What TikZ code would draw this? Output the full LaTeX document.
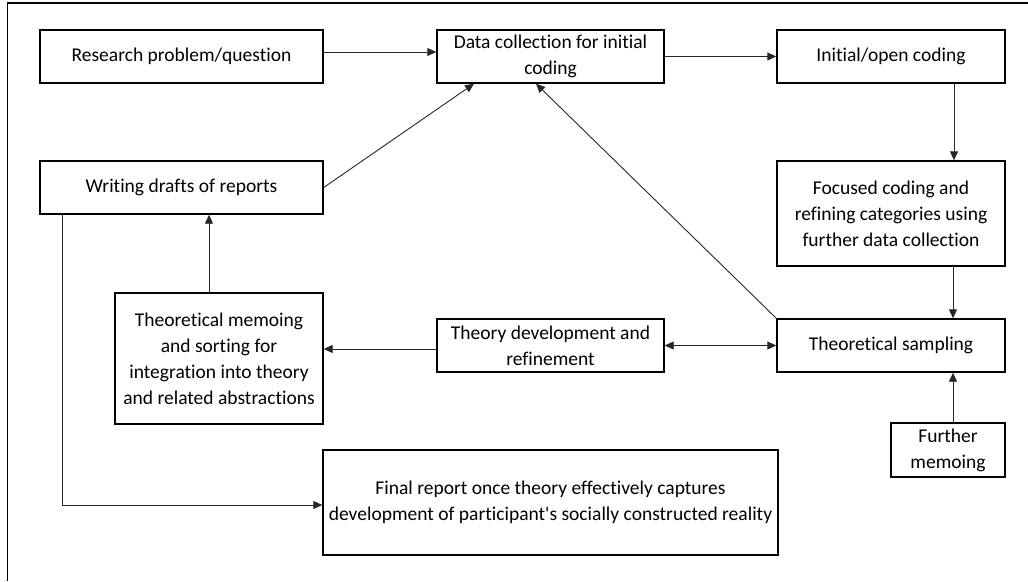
\documentclass[tikz,border=0pt]{standalone}
\usepackage{fontspec}
\setmainfont{Carlito}[Ligatures={NoCommon}]
\usetikzlibrary{arrows.meta}
\begin{document}
\begin{tikzpicture}[x=1pt,y=-1pt,
  box/.style={draw=black,line width=1.4pt,align=center,inner sep=0pt,
    font=\fontsize{19.5}{26}\selectfont},
  link/.style={draw=black!85,line width=0.9pt,-{Triangle[length=9pt,width=8pt]}},
  dlink/.style={draw=black!85,line width=0.9pt,{Triangle[length=9pt,width=8pt]}-{Triangle[length=9pt,width=8pt]}}]
\useasboundingbox (0,0) rectangle (1028,581);
% frame along the top and left
\draw[line width=1.3pt] (7.3,581) -- (7.3,3) -- (1028,3);

% process steps
\node[box,minimum width=283pt,minimum height=53pt] (research) at (181.5,56.5) {Research problem/question};
\node[box,minimum width=227pt,minimum height=53pt] (data) at (550.5,56.5) {Data collection for initial\\coding};
\node[box,minimum width=228pt,minimum height=53pt] (initial) at (891,56.5) {Initial/open coding};
\node[box,minimum width=283pt,minimum height=53pt] (writing) at (181.5,187.5) {Writing drafts of reports};
\node[box,minimum width=228pt,minimum height=105pt] (focused) at (891,213.5) {Focused coding and\\refining categories using\\further data collection};
\node[box,minimum width=208pt,minimum height=131pt] (memoing) at (219,358.5) {Theoretical memoing\\and sorting for\\integration into theory\\and related abstractions};
\node[box,minimum width=227pt,minimum height=53pt] (theorydev) at (550.5,345.5) {Theory development and\\refinement};
\node[box,minimum width=228pt,minimum height=53pt] (sampling) at (891,345.5) {Theoretical sampling};
\node[box,minimum width=114pt,minimum height=54pt] (further) at (948,450) {Further\\memoing};
\node[box,minimum width=455pt,minimum height=105pt] (final) at (550.5,502.5) {Final report once theory effectively captures\\development of participant\textquotesingle s socially constructed reality};

% connectors
\coordinate (tm) at ([yshift=-3.5pt]theorydev.west);
\draw[link] ([yshift=4.5pt]research.east) -- ([yshift=4.5pt]data.west);
\draw[link] (data.east) -- (initial.west);
\draw[link] ([xshift=63pt]initial.south) -- ([xshift=63pt]focused.north);
\draw[link] ([xshift=62pt]focused.south) -- ([xshift=62pt]sampling.north);
\draw[link] ([xshift=5pt]further.north) -- ([xshift=5pt]further.north |- sampling.south);
\draw[dlink] (theorydev.east) -- (sampling.west);
\draw[link] (tm) -- (tm -| memoing.east);
\draw[link] ([xshift=-10pt]memoing.north) -- ([xshift=-10pt]memoing.north |- writing.south);
\draw[link] (writing.east) -- ([xshift=-76.5pt]data.south);
\draw[link] (sampling.north west) -- ([xshift=-14.5pt]data.south);
\draw[link] ([xshift=-119.5pt]writing.south) |- ([yshift=-2.5pt]final.west);
\end{tikzpicture}
\end{document}
